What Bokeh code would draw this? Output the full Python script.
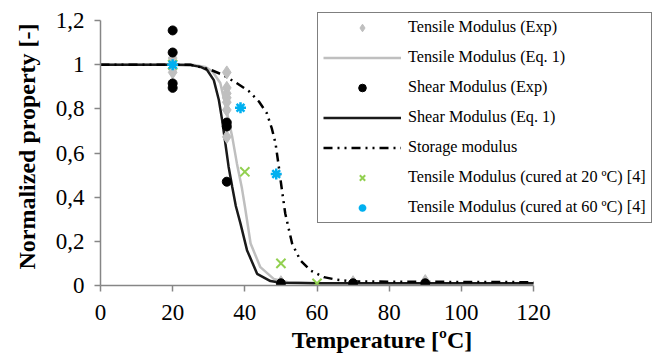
from bokeh.plotting import figure
from bokeh.models import Range1d, FixedTicker, Legend, LegendItem
from bokeh.embed import file_html
from bokeh.resources import INLINE

# ---- data ----
tens_exp_x = [20, 20, 20, 20, 35, 35, 35, 35, 35, 35, 35, 35, 50, 70, 90]
tens_exp_y = [1.03, 1.0, 0.98, 0.965, 0.965, 0.895, 0.87, 0.85, 0.83, 0.795, 0.727, 0.673, 0.015, 0.015, 0.02]

shear_exp_x = [20, 20, 20, 20, 35, 35, 35, 50, 70, 90]
shear_exp_y = [1.155, 1.055, 0.915, 0.895, 0.738, 0.72, 0.47, 0.01, 0.01, 0.01]

tens_eq_x = [0, 20, 26, 29, 31, 33.2, 35.1, 36.5, 37.8, 39.2, 40.0, 41.6, 44.3, 48, 52, 60, 120]
tens_eq_y = [1, 1, 0.998, 0.99, 0.97, 0.917, 0.78, 0.674, 0.553, 0.44, 0.36, 0.19, 0.083, 0.03, 0.015, 0.01, 0.01]

shear_eq_x = [0, 20, 25, 27.7, 29.5, 31.4, 32.8, 33.7, 34.6, 35.5, 36.5, 37.5, 38.8, 40.6, 43.4, 47.1, 50, 60, 120]
shear_eq_y = [1.0, 1.0, 0.998, 0.99, 0.977, 0.93, 0.84, 0.75, 0.644, 0.538, 0.447, 0.36, 0.28, 0.16, 0.053, 0.02, 0.012, 0.01, 0.01]

storage_x = [0, 20, 25, 30.5, 33.7, 37.4, 41.1, 43.9, 46.1, 47.5, 48.5, 49.4, 50.3, 51.2, 53.1, 55.4, 58.2, 61.9, 65.5, 70, 120]
storage_y = [1, 1, 1.0, 0.977, 0.955, 0.92, 0.88, 0.833, 0.78, 0.71, 0.644, 0.54, 0.43, 0.326, 0.19, 0.114, 0.068, 0.038, 0.026, 0.018, 0.015]

cured20_x = [20, 40, 50, 60]
cured20_y = [1.0, 0.515, 0.10, 0.01]

cured60_x = [20, 38.8, 48.7]
cured60_y = [1.0, 0.805, 0.505]

x_ticks = [0, 20, 40, 60, 80, 100, 120]
y_ticks = [0, 0.2, 0.4, 0.6, 0.8, 1.0, 1.2]
y_tick_labels = ["0", "0,2", "0,4", "0,6", "0,8", "1", "1,2"]

SERIF = "Liberation Serif"

# frame spans wider than the axes so the legend box (which overhangs the axes) is not clipped
X_END = 120 * 563 / 433
Y_END = 1.2 * 278 / 265

p = figure(width=664, height=355, output_backend="svg", toolbar_location=None,
           x_range=Range1d(0, X_END), y_range=Range1d(0, Y_END),
           min_border_left=100, min_border_right=1, min_border_top=7, min_border_bottom=70)
p.outline_line_color = None
p.xgrid.visible = False
p.ygrid.visible = False
p.background_fill_color = "white"

for ax in (p.xaxis[0], p.yaxis[0]):
    ax.axis_line_color = "#868686"
    ax.axis_line_width = 1.5
    ax.major_tick_line_color = "#868686"
    ax.major_tick_line_width = 1.5
    ax.major_tick_out = 6
    ax.major_tick_in = 0
    ax.minor_tick_line_color = None
    ax.major_label_text_font = SERIF
    ax.major_label_text_font_size = "23px"
    ax.major_label_text_color = "black"
    ax.axis_label_text_font = SERIF
    ax.axis_label_text_font_size = "24px"
    ax.axis_label_text_font_style = "bold"
    ax.axis_label_text_color = "black"

p.xaxis[0].bounds = (0, 120)
p.yaxis[0].bounds = (0, 1.2)
p.xaxis[0].ticker = FixedTicker(ticks=x_ticks)
p.yaxis[0].ticker = FixedTicker(ticks=y_ticks)
p.yaxis[0].major_label_overrides = {t: l for t, l in zip(y_ticks, y_tick_labels)}
p.xaxis[0].axis_label = "Temperature [ºC]"
p.yaxis[0].axis_label = "Normalized property [-]"
p.xaxis[0].major_label_standoff = 13
p.yaxis[0].major_label_standoff = 10
p.xaxis[0].axis_label_standoff = 4
p.yaxis[0].axis_label_standoff = 13

r_tens_eq = p.line(tens_eq_x, tens_eq_y, line_color="#BFBFBF", line_width=2.5)
r_shear_eq = p.line(shear_eq_x, shear_eq_y, line_color="#1a1a1a", line_width=2.5)
r_storage = p.line(storage_x, storage_y, line_color="black", line_width=2.5, line_dash="9 5 2 5 2 5")
r_tens_exp = p.scatter(tens_exp_x, tens_exp_y, marker="diamond", size=13,
                       fill_color="#BFBFBF", line_color="#BFBFBF")
r_shear_exp = p.scatter(shear_exp_x, shear_exp_y, marker="circle", size=9,
                        fill_color="black", line_color="black")
r_c20 = p.scatter(cured20_x, cured20_y, marker="x", size=13, line_color="#92D050", line_width=2)
r_c60 = p.scatter(cured60_x, cured60_y, marker="asterisk", size=11, line_color="#00B0F0", line_width=2.5)

legend = Legend(items=[
    LegendItem(label="Tensile Modulus (Exp)", renderers=[r_tens_exp]),
    LegendItem(label="Tensile Modulus (Eq. 1)", renderers=[r_tens_eq]),
    LegendItem(label="Shear Modulus (Exp)", renderers=[r_shear_exp]),
    LegendItem(label="Shear Modulus (Eq. 1)", renderers=[r_shear_eq]),
    LegendItem(label="Storage modulus", renderers=[r_storage]),
    LegendItem(label="Tensile Modulus (cured at 20 ºC) [4]", renderers=[r_c20]),
    LegendItem(label="Tensile Modulus (cured at 60 ºC) [4]", renderers=[r_c60]),
], location=(217, 62))
legend.label_text_font = SERIF
legend.label_text_font_size = "16.2px"
legend.label_text_color = "black"
legend.glyph_width = 78
legend.glyph_height = 19
legend.label_height = 19
legend.label_width = 237
legend.spacing = 11
legend.padding = 5
legend.margin = 0
legend.label_standoff = 7
legend.border_line_color = "black"
legend.border_line_width = 1.5
legend.background_fill_color = "white"
legend.background_fill_alpha = 1.0
p.add_layout(legend, "center")

open("out.html", "w").write(file_html(p, INLINE))
